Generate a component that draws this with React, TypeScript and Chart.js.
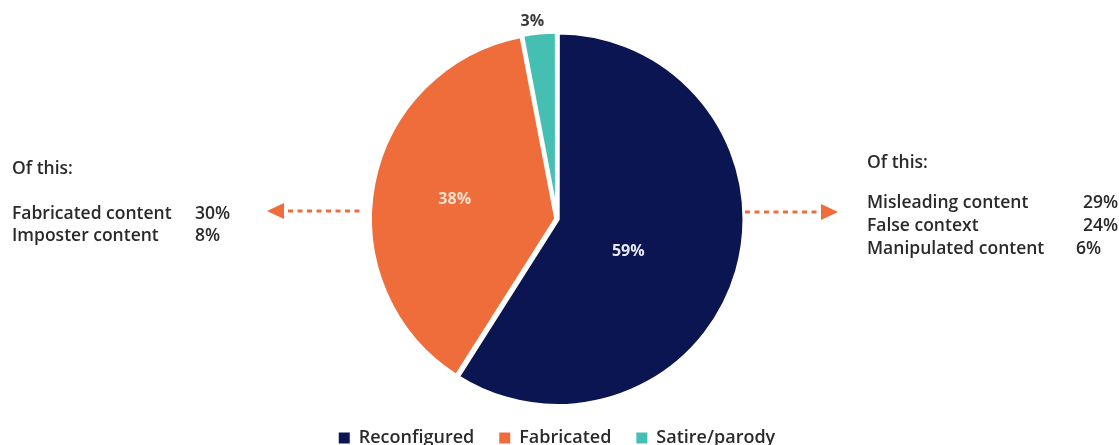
import React, { useEffect, useRef } from "react";
import { Chart, registerables } from "chart.js";

Chart.register(...registerables);

const categories = ["Reconfigured", "Fabricated", "Satire/parody"];
const shares = [59, 38, 3];
const colors = ["#0a1551", "#ee6d3a", "#45bfb1"];
const sliceLabels = ["59%", "38%", "3%"];

const leftTitle = "Of this:";
const leftItems = ["Fabricated content", "Imposter content"];
const leftValues = ["30%", "8%"];
const rightTitle = "Of this:";
const rightItems = ["Misleading content", "False context", "Manipulated content"];
const rightValues = ["29%", "24%", "6%"];

const FONT = "'Open Sans', Lato, sans-serif";
const TEXT = "#2a2a2a";

const overlayPlugin = {
  id: "overlay",
  afterDatasetsDraw(chart: any) {
    const ctx = chart.ctx;
    const meta = chart.getDatasetMeta(0);
    ctx.save();
    ctx.font = `bold 16px ${FONT}`;
    ctx.textAlign = "center";
    ctx.textBaseline = "middle";
    const fracs = [0.42, 0.56, 0];
    const shifts = [0.14, 0, -0.03];
    meta.data.forEach((arc: any, i: number) => {
      const { x, y, startAngle, endAngle, outerRadius } = arc.getProps(
        ["x", "y", "startAngle", "endAngle", "outerRadius"],
        true
      );
      const mid = (startAngle + endAngle) / 2 + shifts[i];
      let r = outerRadius * fracs[i];
      let color = i === 0 ? "#e6e8f3" : "#fbdfcb";
      if (i === 2) {
        r = outerRadius + 13;
        color = "#3a3a3a";
      }
      ctx.fillStyle = color;
      ctx.fillText(sliceLabels[i], x + Math.cos(mid) * r, y + Math.sin(mid) * r);
    });
    // dotted arrows
    ctx.fillStyle = colors[1];
    const dots = (x0: number, x1: number, yy: number) => {
      for (let xx = x0; xx <= x1; xx += 9.5) {
        ctx.fillRect(xx, yy - 1.5, 5, 3);
      }
    };
    dots(288, 360, 211);
    ctx.beginPath();
    ctx.moveTo(267, 211);
    ctx.lineTo(284, 203);
    ctx.lineTo(284, 219);
    ctx.closePath();
    ctx.fill();
    dots(745, 815, 212);
    ctx.beginPath();
    ctx.moveTo(838, 212);
    ctx.lineTo(821, 204);
    ctx.lineTo(821, 220);
    ctx.closePath();
    ctx.fill();
    ctx.restore();
  },
};

export default function App() {
  const ref = useRef<HTMLCanvasElement | null>(null);
  useEffect(() => {
    document.body.style.margin = "0";
    if (!ref.current) return;
    const chart = new Chart(ref.current, {
      type: "pie",
      data: {
        labels: categories,
        datasets: [
          {
            data: shares,
            backgroundColor: colors,
            borderColor: "#ffffff",
            borderWidth: 4,
            offset: 3,
          },
        ],
      },
      options: {
        responsive: false,
        animation: false,
        radius: 186,
        layout: { padding: { top: 34, bottom: -12, left: 0, right: 5 } },
        plugins: {
          tooltip: { enabled: false },
          legend: {
            position: "bottom",
            labels: {
              boxWidth: 11,
              boxHeight: 11,
              padding: 25,
              color: TEXT,
              font: { family: FONT, size: 18, weight: "600" },
              generateLabels(c: any) {
                const items = Chart.overrides.pie.plugins.legend.labels.generateLabels(c);
                return items.map((it: any) => ({ ...it, lineWidth: 0, strokeStyle: "rgba(0,0,0,0)" }));
              },
            },
          },
        },
      },
      plugins: [overlayPlugin],
    } as any);
    return () => chart.destroy();
  }, []);

  const textStyle: React.CSSProperties = {
    position: "absolute",
    fontFamily: FONT,
    fontSize: 17.5,
    fontWeight: 600,
    color: TEXT,
    whiteSpace: "nowrap",
    lineHeight: "22px",
  };

  return (
    <div style={{ position: "relative", width: 1119, height: 445, background: "#fff", overflow: "hidden" }}>
      <canvas ref={ref} width={1119} height={445} style={{ display: "block" }} />
      <div style={{ ...textStyle, left: 12, top: 156 }}>{leftTitle}</div>
      {leftItems.map((t, i) => (
        <React.Fragment key={t}>
          <div style={{ ...textStyle, left: 12, top: 201 + i * 22 }}>{t}</div>
          <div style={{ ...textStyle, left: 195, top: 201 + i * 22 }}>{leftValues[i]}</div>
        </React.Fragment>
      ))}
      <div style={{ ...textStyle, left: 867, top: 150 }}>{rightTitle}</div>
      {rightItems.map((t, i) => (
        <React.Fragment key={t}>
          <div style={{ ...textStyle, left: 867, top: 190 + i * 23 }}>{t}</div>
          <div style={{ ...textStyle, left: i === 2 ? 1076 : 1083, top: 190 + i * 23 }}>
            {rightValues[i]}
          </div>
        </React.Fragment>
      ))}
    </div>
  );
}
